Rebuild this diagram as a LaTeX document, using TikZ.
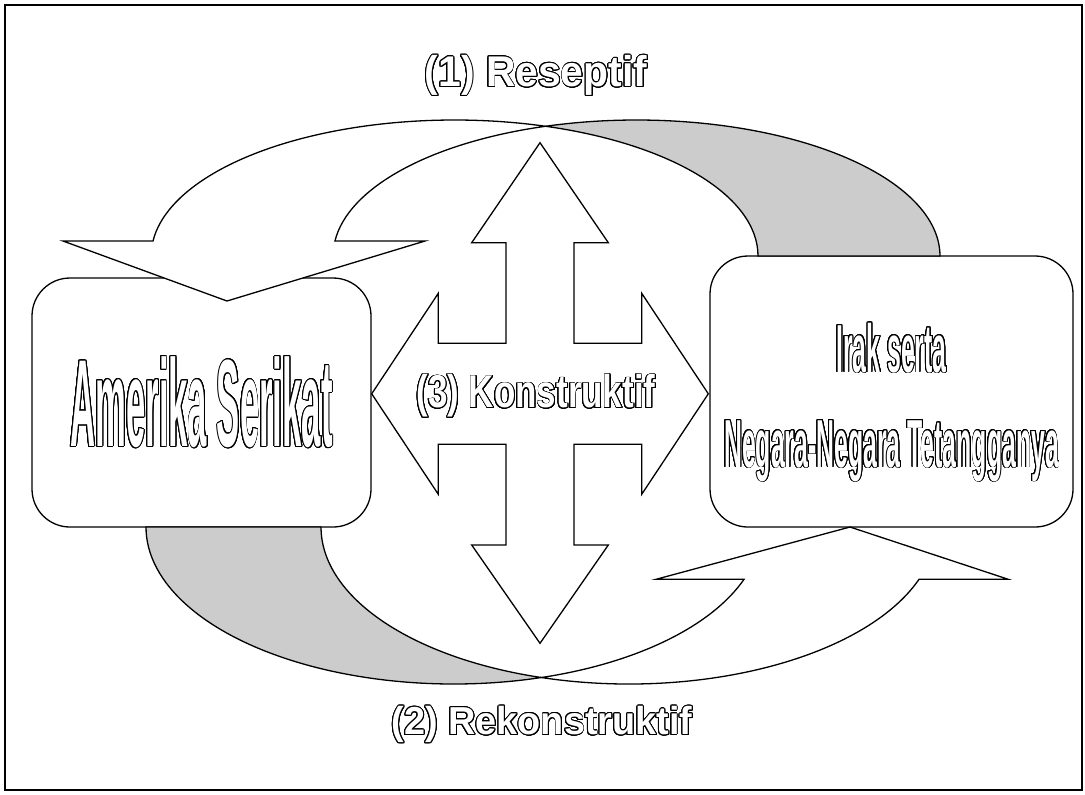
\documentclass[tikz,border=0pt]{standalone}
\usepackage{fontspec}
\setmainfont{Liberation Sans}
\usepackage{xcolor}
\usepackage{graphicx}
\usepackage{contour}
\contourlength{0.45pt}
\contournumber{24}
\definecolor{relDark}{RGB}{0, 0, 0}
\definecolor{relBack}{RGB}{204, 204, 204}
\definecolor{relLight}{RGB}{255, 255, 255}
\usepackage{tikz}
\usetikzlibrary{
    calc
}

% hollow (outlined) condensed text
\newcommand{\hollowtext}[2]{\contour{relDark}{\scalebox{#1}[1]{#2}}}

\begin{document}
\begin{tikzpicture}[
    x=0.5pt, y=-0.5pt,
    partyBox/.style={
        rectangle, rounded corners=19pt,
        draw=relDark, line width=0.65pt,
        fill=relLight, text=relLight,
        align=center, inner sep=0pt
    },
    arrowFace/.style={
        draw=relDark, line width=0.65pt, fill=relLight, line join=miter
    },
    arrowBack/.style={
        draw=relDark, line width=0.65pt, fill=relBack
    },
    relLabel/.style={
        text=relLight, inner sep=0pt,
        font=\bfseries
    },
    topArc/.style={x radius=303.4, y radius=136},
    botArc/.style={x radius=307.8, y radius=157}
]
    \useasboundingbox (0,0) rectangle (1085,794);

    % Frame
    \draw[draw=relDark, line width=0.8pt] (5,5) rectangle (1082,790);

    % Parties
    \node[partyBox, minimum width=169.5pt, minimum height=124.5pt,
          font=\fontsize{62pt}{70pt}\selectfont\bfseries] (amerika) at (201.5,402.5)
        {\hollowtext{0.28}{Amerika Serikat}};
    \node[partyBox, minimum width=181.5pt, minimum height=135.5pt,
          text height=75.5pt, text depth=0pt,
          font=\fontsize{34pt}{47.5pt}\selectfont\bfseries] (irak) at (891.5,391.5)
        {\hollowtext{0.365}{Irak serta}\\\hollowtext{0.365}{Negara-Negara Tetangganya}};

    % (1) Receptive: curved arrow over the top
    \coordinate (topCross) at (545.6,126.26);
    \draw[arrowBack] (topCross) arc[topArc, start angle=252.55, end angle=360]
        -- (758,256) arc[topArc, start angle=360, end angle=287.45] -- cycle;
    \draw[arrowFace] (153,241) arc[topArc, start angle=186.33, end angle=287.45]
        arc[topArc, start angle=252.55, end angle=186.33]
        -- (425,241) -- (227,301) -- (63,241) -- cycle;

    % (2) Reconstructive: curved arrow underneath
    \coordinate (botCross) at (541.3,677.5);
    \draw[arrowBack] (146,527) arc[botArc, start angle=180, end angle=73.48]
        arc[botArc, start angle=106.52, end angle=180] -- cycle;
    \draw[arrowFace] (botCross) arc[botArc, start angle=106.52, end angle=19.46]
        -- (1008.3,579.3) -- (850,527) -- (656,579.3) -- (744,579.3)
        arc[botArc, start angle=19.46, end angle=73.48] -- cycle;

    % (3) Constructive: four-way arrow
    \draw[arrowFace] (540,142.7) -- (608.3,242.7) -- (574,242.7) -- (574,343.3)
        -- (641.7,343.3) -- (641.7,293.3) -- (708.3,393.8) -- (641.7,494.3)
        -- (641.7,444.3) -- (574,444.3) -- (574,545) -- (608.3,545)
        -- (540,643.3) -- (471.7,545) -- (506,545) -- (506,444.3)
        -- (438.3,444.3) -- (438.3,494.3) -- (371.7,393.8) -- (438.3,293.3)
        -- (438.3,343.3) -- (506,343.3) -- (506,242.7) -- (471.7,242.7) -- cycle;

    % Labels
    \node[relLabel, font=\fontsize{21.5pt}{24pt}\selectfont\bfseries] (reseptif) at (536,76)
        {\hollowtext{0.95}{(1) Reseptif}};
    \node[relLabel, font=\fontsize{19.5pt}{22pt}\selectfont\bfseries] (rekonstruktif) at (542,725)
        {\hollowtext{0.97}{(2) Rekonstruktif}};
    \node[relLabel, font=\fontsize{23pt}{26pt}\selectfont\bfseries] (konstruktif) at (536,396.5)
        {\hollowtext{0.76}{(3) Konstruktif}};

\end{tikzpicture}
\end{document}
